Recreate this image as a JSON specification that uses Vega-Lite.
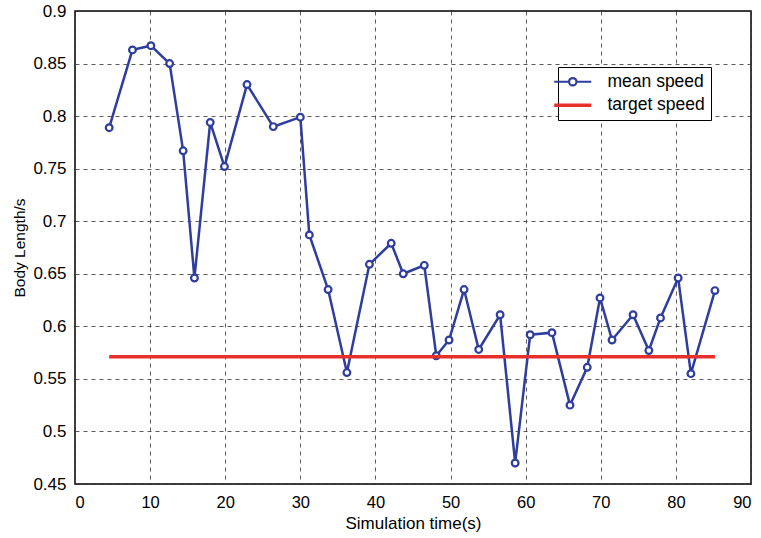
{
  "$schema": "https://vega.github.io/schema/vega-lite/v6.json",
  "autosize": "none",
  "width": 676,
  "height": 473,
  "padding": {"left": 75, "top": 11, "right": 10, "bottom": 54},
  "background": "white",
  "config": {
    "font": "Liberation Sans",
    "view": {"stroke": "black", "strokeWidth": 1.5},
    "axis": {
      "labelFont": "Liberation Sans",
      "labelColor": "black",
      "titleFont": "Liberation Sans",
      "titleFontWeight": "normal",
      "titleColor": "black",
      "domain": false,
      "ticks": false,
      "grid": true,
      "gridColor": "#333333",
      "gridDash": [4, 4],
      "gridOpacity": 0.8
    }
  },
  "data": {
    "values": [
      {"t": 4.55, "v": 0.789, "series": "mean speed"},
      {"t": 7.65, "v": 0.863, "series": "mean speed"},
      {"t": 10.1, "v": 0.867, "series": "mean speed"},
      {"t": 12.6, "v": 0.850, "series": "mean speed"},
      {"t": 14.4, "v": 0.767, "series": "mean speed"},
      {"t": 15.9, "v": 0.646, "series": "mean speed"},
      {"t": 18.0, "v": 0.794, "series": "mean speed"},
      {"t": 19.9, "v": 0.752, "series": "mean speed"},
      {"t": 22.9, "v": 0.830, "series": "mean speed"},
      {"t": 26.4, "v": 0.790, "series": "mean speed"},
      {"t": 30.0, "v": 0.799, "series": "mean speed"},
      {"t": 31.2, "v": 0.687, "series": "mean speed"},
      {"t": 33.7, "v": 0.635, "series": "mean speed"},
      {"t": 36.2, "v": 0.556, "series": "mean speed"},
      {"t": 39.2, "v": 0.659, "series": "mean speed"},
      {"t": 42.1, "v": 0.679, "series": "mean speed"},
      {"t": 43.7, "v": 0.650, "series": "mean speed"},
      {"t": 46.5, "v": 0.658, "series": "mean speed"},
      {"t": 48.1, "v": 0.572, "series": "mean speed"},
      {"t": 49.8, "v": 0.587, "series": "mean speed"},
      {"t": 51.8, "v": 0.635, "series": "mean speed"},
      {"t": 53.75, "v": 0.578, "series": "mean speed"},
      {"t": 56.6, "v": 0.611, "series": "mean speed"},
      {"t": 58.6, "v": 0.470, "series": "mean speed"},
      {"t": 60.6, "v": 0.592, "series": "mean speed"},
      {"t": 63.5, "v": 0.594, "series": "mean speed"},
      {"t": 65.9, "v": 0.525, "series": "mean speed"},
      {"t": 68.2, "v": 0.561, "series": "mean speed"},
      {"t": 69.9, "v": 0.627, "series": "mean speed"},
      {"t": 71.5, "v": 0.587, "series": "mean speed"},
      {"t": 74.3, "v": 0.611, "series": "mean speed"},
      {"t": 76.4, "v": 0.577, "series": "mean speed"},
      {"t": 77.95, "v": 0.608, "series": "mean speed"},
      {"t": 80.3, "v": 0.646, "series": "mean speed"},
      {"t": 82.0, "v": 0.555, "series": "mean speed"},
      {"t": 85.2, "v": 0.634, "series": "mean speed"},
      {"t": 4.55, "v": 0.571, "series": "target speed"},
      {"t": 85.2, "v": 0.571, "series": "target speed"}
    ]
  },
  "encoding": {
    "x": {
      "field": "t", "type": "quantitative", "title": "Simulation time(s)",
      "scale": {"domain": [0, 90], "nice": false, "zero": false},
      "axis": {"values": [0, 10, 20, 30, 40, 50, 60, 70, 80, 90], "labelFontSize": 16.5, "labelPadding": 10, "titleFontSize": 17, "titlePadding": 5}
    },
    "y": {
      "field": "v", "type": "quantitative", "title": "Body Length/s",
      "scale": {"domain": [0.45, 0.9], "nice": false, "zero": false},
      "axis": {"values": [0.45, 0.5, 0.55, 0.6, 0.65, 0.7, 0.75, 0.8, 0.85, 0.9], "format": "~g", "labelFontSize": 17, "labelPadding": 9, "titleFontSize": 15.5, "titlePadding": 5}
    },
    "color": {
      "field": "series", "type": "nominal",
      "scale": {"domain": ["mean speed", "target speed"], "range": ["#2e3d9e", "#e5302b"]},
      "legend": {
        "title": null,
        "orient": "none",
        "legendX": 483,
        "legendY": 56,
        "strokeColor": "black",
        "fillColor": "white",
        "padding": 6,
        "labelFont": "Liberation Sans",
        "labelFontSize": 17.5,
        "labelColor": "black",
        "symbolSize": 1369,
        "symbolStrokeWidth": 2.5,
        "symbolFillColor": "white",
        "rowPadding": 4.5,
        "labelOffset": 26,
        "encode": {
          "symbols": {
            "update": {
              "shape": {"signal": "datum.value === 'mean speed' ? 'M-1,0H-0.2M0.2,0H1M-0.2,0A0.2,0.2 0 1,0 0.2,0A0.2,0.2 0 1,0 -0.2,0' : 'M-1,0H1'"},
              "strokeWidth": {"signal": "datum.value === 'mean speed' ? 2.2 : 3.5"}
            }
          }
        }
      }
    }
  },
  "layer": [
    {
      "transform": [{"filter": "datum.series === 'mean speed'"}],
      "mark": {"type": "line", "strokeWidth": 2.5, "point": {"filled": false, "fill": "white", "size": 45, "strokeWidth": 2.2, "color": "#2e3d9e"}}
    },
    {
      "transform": [{"filter": "datum.series === 'target speed'"}],
      "mark": {"type": "line", "strokeWidth": 3.5}
    }
  ]
}
